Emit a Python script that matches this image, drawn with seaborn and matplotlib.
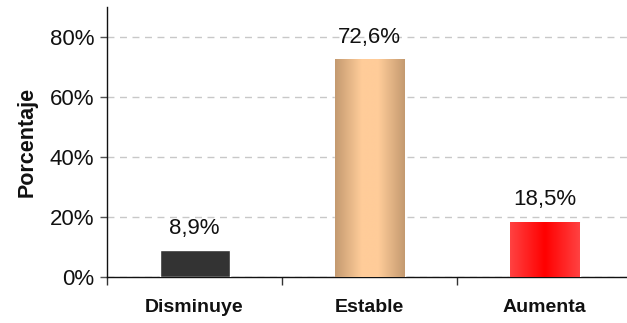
import numpy as np
import pandas as pd
import matplotlib
matplotlib.use("Agg")
import matplotlib.pyplot as plt
import seaborn as sns

categories = ["Disminuye", "Estable", "Aumenta"]
values = [8.9, 72.6, 18.5]
value_labels = ["8,9%", "72,6%", "18,5%"]
yticks = [0, 20, 40, 60, 80]
ytick_labels = ["0%", "20%", "40%", "60%", "80%"]

sns.set_theme(style="ticks")
plt.rcParams['font.family'] = ['Liberation Sans', 'DejaVu Sans']

fig = plt.figure(figsize=(6.27, 3.23), dpi=100)
ax = fig.add_axes([107/627, 46/323, 525/627, 270/323])

df = pd.DataFrame({"cat": categories, "val": values})
sns.barplot(data=df, x="cat", y="val", order=categories, width=0.4,
            color="#333333", saturation=1, ax=ax, zorder=3)

# gradient fills (style only)
grads = {
    1: [(0.0, (196, 154, 112)), (0.38, (255, 204, 153)), (0.62, (255, 204, 153)), (1.0, (196, 154, 112))],
    2: [(0.0, (255, 66, 66)), (0.5, (255, 0, 0)), (1.0, (255, 66, 66))],
}
for i, p in enumerate(ax.patches):
    if i in grads:
        stops = grads[i]
        pos = np.linspace(0, 1, 200)
        xs = [s[0] for s in stops]
        arr = np.zeros((1, 200, 3))
        for c in range(3):
            arr[0, :, c] = np.interp(pos, xs, [s[1][c] for s in stops]) / 255.0
        x0, y0 = p.get_x(), p.get_y()
        w, h = p.get_width(), p.get_height()
        im = ax.imshow(arr, extent=[x0, x0 + w, y0, y0 + h], aspect="auto",
                       zorder=4, interpolation="bilinear")
        im.set_clip_path(p)

for i, (v, lbl) in enumerate(zip(values, value_labels)):
    ax.annotate(lbl, (i, v), xytext=(0, 8), textcoords="offset points",
                ha="center", va="bottom", fontsize=16, color="#111111", zorder=5)

ax.set_xlim(-0.5, 2.5)
ax.set_ylim(0, 90)
ax.set_yticks(yticks)
ax.set_yticklabels(ytick_labels, fontsize=16, color="#111111")
ax.tick_params(axis="y", length=5, width=1, color="#555555", pad=4)

ax.set_xticks([0, 1, 2])
ax.set_xticklabels(categories, fontsize=14, fontweight="bold", color="#111111")
ax.set_xticks([-0.5, 0.5, 1.5, 2.5], minor=True)
ax.tick_params(axis="x", which="major", length=0, pad=16)
ax.tick_params(axis="x", which="minor", length=6, width=1, color="#333333")

ax.set_xlabel("")
ax.set_ylabel("Porcentaje", fontsize=15.5, fontweight="bold", color="#111111", labelpad=9)

ax.yaxis.grid(True, linestyle=(0, (5, 4)), color="#C8C8C8", linewidth=1)
ax.set_axisbelow(True)
for s in ["top", "right"]:
    ax.spines[s].set_visible(False)
for s in ["left", "bottom"]:
    ax.spines[s].set_color("#111111")
    ax.spines[s].set_linewidth(1)

fig.savefig("out.png", dpi=100)
